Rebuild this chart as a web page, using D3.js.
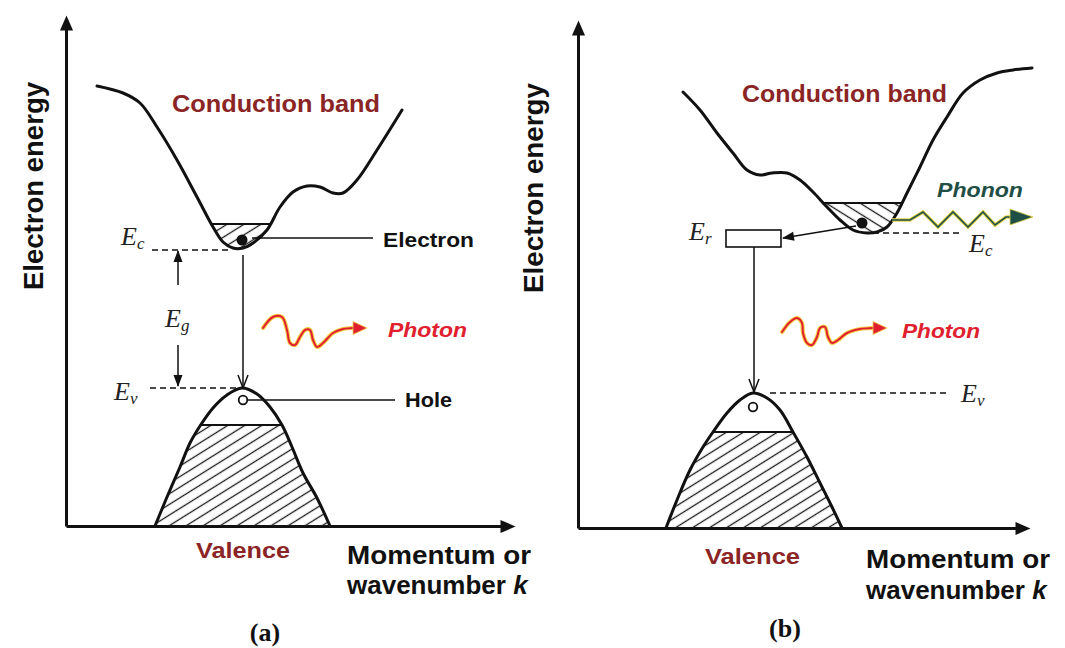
<!DOCTYPE html>
<html>
<head>
<meta charset="utf-8">
<script src="https://cdn.jsdelivr.net/npm/d3@7"></script>
<style>
body { margin: 0; background: #fff; }
text.sans { font-family: "Liberation Sans", Arial, sans-serif; }
text.serif { font-family: "Liberation Serif", "Times New Roman", serif; }
</style>
</head>
<body>
<script>

var condA = [[31,440],[57,433],[74,423],[91,399],[111,366],[131,329],[147,299],[157,284],[167,278],[177,278],[187,283],[201,296],[214,319],[227,334],[241,340],[254,339],[267,333],[277,333],[291,346],[311,376],[336,416]];
var valA = [[89,0],[101,29],[114,59],[124,83],[134,100],[147,118],[161,131],[176,138],[191,132],[204,119],[216,101],[226,79],[237,53],[251,28],[264,0]];
var photonA = [[197,198],[207,209],[216,209],[221,196],[224,183],[229,181],[234,189],[239,196],[244,196],[247,186],[251,179],[257,183],[267,193],[277,197],[287,198]];
var photonTipA = [301,198];

var condB = [[105,436],[122,418],[139,395],[155,375],[169,358],[182,353],[194,355],[209,355],[222,348],[235,336],[249,321],[262,308],[275,298],[289,295],[299,296],[309,301],[319,315],[329,335],[342,361],[355,388],[369,411],[385,435],[402,448],[419,455],[435,458],[454,460]];
var valB = [[88,0],[99,28],[112,58],[125,81],[135,96],[149,115],[162,128],[175,135],[189,130],[202,118],[215,96],[229,71],[242,45],[254,21],[264,0]];
var photonB = [[204,196],[212,206],[219,210],[224,205],[225,195],[229,185],[234,183],[239,191],[242,200],[247,201],[250,191],[254,185],[260,188],[269,195],[282,199],[295,200]];
var photonTipB = [309,200];
var phononB = [[314,308],[332,308],[345,316],[360,301],[375,316],[390,301],[405,316],[417,303],[428,311],[432,311]];
var phononTipB = [455,311];

// levels
var levelsA = {condFill: 302, valFill: 101, Ec: 276, Ev: 138};
var levelsB = {condFill: 325, valFill: 96, Ec: 295, Ev: 135, ErTop: 298, ErBottom: 281};

var svg = d3.select("body").append("svg")
    .attr("width", 1065)
    .attr("height", 648);

var defs = svg.append("defs");

// hatching
[["hatchUp", -32], ["hatchDown", 32]].forEach(function(h){
  var p = defs.append("pattern").attr("id", h[0])
    .attr("patternUnits", "userSpaceOnUse")
    .attr("width", 12).attr("height", 9)
    .attr("patternTransform", "rotate(" + h[1] + ")");
  p.append("line").attr("x1", -1).attr("x2", 13).attr("y1", 4.5).attr("y2", 4.5)
    .attr("stroke", "#1a1a1a").attr("stroke-width", 1.3);
});

function marker(id, d, fill, stroke, sw){
  defs.append("marker").attr("id", id)
    .attr("markerUnits", "userSpaceOnUse")
    .attr("viewBox", "-20 -15 30 30")
    .attr("markerWidth", 30).attr("markerHeight", 30)
    .attr("refX", 0).attr("refY", 0)
    .attr("orient", "auto")
    .append("path").attr("d", d)
    .attr("fill", fill).attr("stroke", stroke).attr("stroke-width", sw);
}
marker("axisHead", "M-6,-6.5L9,0L-6,6.5Z", "#111", "none", 0);
marker("vee", "M-13,-5L0,0L-13,5", "none", "#111", 1.5);
marker("tri", "M1,0L-11,-4.5L-11,4.5Z", "#111", "none", 0);

var line = d3.line().curve(d3.curveCatmullRom.alpha(0.5));

function panel(cfg){
  var x = d3.scaleLinear().domain([0, cfg.xTip - 9 - cfg.ox]).range([cfg.ox, cfg.xTip - 9]);
  var y = d3.scaleLinear().domain([0, cfg.oy - cfg.yTip - 9]).range([cfg.oy, cfg.yTip + 9]);
  line.x(function(d){ return x(d[0]); }).y(function(d){ return y(d[1]); });

  var g = svg.append("g");

  // axes with arrows
  var gx = g.append("g").attr("transform", "translate(0," + cfg.oy + ")")
    .call(d3.axisBottom(x).tickValues([]).tickSizeOuter(0));
  gx.select(".domain").attr("stroke", "#111").attr("stroke-width", 3).attr("marker-end", "url(#axisHead)");
  var gy = g.append("g").attr("transform", "translate(" + cfg.ox + ",0)")
    .call(d3.axisLeft(y).tickValues([]).tickSizeOuter(0));
  gy.select(".domain").attr("stroke", "#111").attr("stroke-width", 3).attr("marker-end", "url(#axisHead)");

  // conduction band: hatch the bottom of the well
  var c = cfg.cond, first = c[0], last = c[c.length - 1];
  defs.append("clipPath").attr("id", "well" + cfg.id)
    .append("path").attr("d", line(c) + "L" + x(last[0]) + ",0L" + x(first[0]) + ",0Z");
  var lv = cfg.levels;
  g.append("rect").attr("clip-path", "url(#well" + cfg.id + ")")
    .attr("x", x(first[0])).attr("width", x(last[0]) - x(first[0]))
    .attr("y", y(lv.condFill)).attr("height", y(lv.condFill - 60) - y(lv.condFill))
    .attr("fill", "url(#" + cfg.condHatch + ")");
  g.append("line").attr("clip-path", "url(#well" + cfg.id + ")")
    .attr("x1", x(first[0])).attr("x2", x(last[0]))
    .attr("y1", y(lv.condFill)).attr("y2", y(lv.condFill))
    .attr("stroke", "#111").attr("stroke-width", 2.2);
  g.append("path").attr("d", line(c)).attr("fill", "none")
    .attr("stroke", "#111").attr("stroke-width", 3).attr("stroke-linecap", "round");

  // valence band
  var v = cfg.val;
  defs.append("clipPath").attr("id", "hill" + cfg.id)
    .append("path").attr("d", line(v) + "Z");
  g.append("rect").attr("clip-path", "url(#hill" + cfg.id + ")")
    .attr("x", x(v[0][0])).attr("width", x(v[v.length - 1][0]) - x(v[0][0]))
    .attr("y", y(lv.valFill)).attr("height", y(0) - y(lv.valFill))
    .attr("fill", "url(#hatchUp)");
  g.append("line").attr("clip-path", "url(#hill" + cfg.id + ")")
    .attr("x1", x(v[0][0])).attr("x2", x(v[v.length - 1][0]))
    .attr("y1", y(lv.valFill)).attr("y2", y(lv.valFill))
    .attr("stroke", "#111").attr("stroke-width", 2.2);
  g.append("path").attr("d", line(v)).attr("fill", "none")
    .attr("stroke", "#111").attr("stroke-width", 3);

  // photon
  var ph = cfg.photon, pl = ph[ph.length - 1];
  [["#f4cf4a", 4.2], ["#e0202e", 2]].forEach(function(s){
    g.append("path").attr("d", line(ph)).attr("fill", "none")
      .attr("stroke", s[0]).attr("stroke-width", s[1]).attr("stroke-linecap", "round");
  });
  g.append("path")
    .attr("d", "M" + x(pl[0]) + "," + (y(pl[1]) - 6.5) + "L" + x(cfg.photonTip[0]) + "," + y(cfg.photonTip[1]) +
               "L" + x(pl[0]) + "," + (y(pl[1]) + 6.5) + "Z")
    .attr("fill", "#e0202e").attr("stroke", "#f4cf4a").attr("stroke-width", 0.8);

  return {x: x, y: y, g: g};
}

function dashed(g, x1, x2, yy){
  g.append("line").attr("x1", x1).attr("x2", x2).attr("y1", yy).attr("y2", yy)
    .attr("stroke", "#111").attr("stroke-width", 1.6).attr("stroke-dasharray", "6,4");
}
function arrow(g, x1, y1, x2, y2, m, w){
  g.append("line").attr("x1", x1).attr("y1", y1).attr("x2", x2).attr("y2", y2)
    .attr("stroke", "#111").attr("stroke-width", w || 1.5).attr("marker-end", "url(#" + m + ")");
}
function txt(x, y, s, o){
  o = o || {};
  var t = svg.append("text").attr("class", "sans").attr("x", x).attr("y", y).text(s)
    .attr("font-size", o.size || 20).attr("font-weight", "bold")
    .attr("fill", o.fill || "#111");
  if (o.style) t.attr("font-style", o.style);
  if (o.len) t.attr("textLength", o.len).attr("lengthAdjust", "spacingAndGlyphs");
  return t;
}
function eLabel(x, y, sub){
  var t = svg.append("text").attr("class", "serif").attr("x", x).attr("y", y)
    .attr("font-style", "italic").attr("font-size", 26).attr("fill", "#222");
  t.append("tspan").text("E");
  t.append("tspan").text(sub).attr("font-size", 17).attr("dy", 4);
}

// ---------- panel (a) ----------
var A = panel({id: "a", ox: 66, oy: 526, xTip: 515, yTip: 15, cond: condA, condHatch: "hatchUp",
               val: valA, levels: levelsA, photon: photonA, photonTip: photonTipA});
var xa = A.x, ya = A.y;

dashed(A.g, xa(86), xa(164), ya(levelsA.Ec));
dashed(A.g, xa(84), xa(171), ya(levelsA.Ev));
arrow(A.g, xa(112), ya(241), xa(112), ya(275), "tri", 1.5);
arrow(A.g, xa(112), ya(181), xa(112), ya(140), "tri", 1.5);
arrow(A.g, xa(177), ya(271), xa(177), ya(levelsA.Ev), "vee", 1.5);

A.g.append("line").attr("x1", xa(186)).attr("x2", xa(307)).attr("y1", ya(288)).attr("y2", ya(288))
  .attr("stroke", "#111").attr("stroke-width", 1.6);
A.g.append("circle").attr("cx", xa(176)).attr("cy", ya(286)).attr("r", 5.5).attr("fill", "#111");
A.g.append("line").attr("x1", xa(182)).attr("x2", xa(329)).attr("y1", ya(126)).attr("y2", ya(126))
  .attr("stroke", "#111").attr("stroke-width", 1.6);
A.g.append("circle").attr("cx", xa(177)).attr("cy", ya(126)).attr("r", 4.3)
  .attr("fill", "#fff").attr("stroke", "#111").attr("stroke-width", 1.8);

txt(172, 112, "Conduction band", {size: 24, len: 208, fill: "#8b2525"});
txt(383, 247, "Electron", {size: 20, len: 91});
txt(405, 407, "Hole", {size: 20, len: 47});
txt(388, 337, "Photon", {size: 20, len: 79, style: "italic", fill: "#e0202e"});
txt(196, 558, "Valence", {size: 22, len: 94, fill: "#8b2525"});
txt(347, 564, "Momentum or", {size: 26, len: 184});
var wa = txt(347, 594, "wavenumber ", {size: 26});
wa.append("tspan").text("k").attr("font-style", "italic");
txt(43, 186, "Electron energy", {size: 27, len: 208})
  .attr("text-anchor", "middle").attr("transform", "rotate(-90,43,186)");
eLabel(121, 245, "c");
eLabel(165, 327, "g");
eLabel(114, 400, "v");
svg.append("text").attr("class", "serif").attr("x", 265).attr("y", 641).attr("text-anchor", "middle")
  .attr("font-weight", "bold").attr("font-size", 26).attr("fill", "#111").text("(a)");

// ---------- panel (b) ----------
var B = panel({id: "b", ox: 578, oy: 528, xTip: 1030, yTip: 20, cond: condB, condHatch: "hatchDown",
               val: valB, levels: levelsB, photon: photonB, photonTip: photonTipB});
var xb = B.x, yb = B.y;

dashed(B.g, xb(295), xb(382), yb(levelsB.Ec));
dashed(B.g, xb(192), xb(372), yb(levelsB.Ev));

// recombination level box
B.g.append("rect").attr("x", xb(148)).attr("width", xb(203) - xb(148))
  .attr("y", yb(levelsB.ErTop)).attr("height", yb(levelsB.ErBottom) - yb(levelsB.ErTop))
  .attr("fill", "#fff").attr("stroke", "#111").attr("stroke-width", 1.6);
arrow(B.g, xb(176), yb(levelsB.ErBottom), xb(176), yb(levelsB.Ev + 1), "vee", 1.5);
arrow(B.g, xb(278), yb(302), xb(205), yb(290), "tri", 1.5);

B.g.append("circle").attr("cx", xb(284)).attr("cy", yb(305)).attr("r", 5.5).attr("fill", "#111");
B.g.append("circle").attr("cx", xb(175)).attr("cy", yb(121)).attr("r", 4.3)
  .attr("fill", "#fff").attr("stroke", "#111").attr("stroke-width", 1.8);

// phonon
var phl = phononB[phononB.length - 1];
var zig = d3.line().x(function(d){ return xb(d[0]); }).y(function(d){ return yb(d[1]); });
[["#e3d24a", 3.6], ["#1f4f45", 1.6]].forEach(function(s){
  B.g.append("path").attr("d", zig(phononB)).attr("fill", "none")
    .attr("stroke", s[0]).attr("stroke-width", s[1]).attr("stroke-linejoin", "miter");
});
B.g.append("path")
  .attr("d", "M" + xb(phl[0]) + "," + (yb(phl[1]) - 8) + "L" + xb(phononTipB[0]) + "," + yb(phononTipB[1]) +
             "L" + xb(phl[0]) + "," + (yb(phl[1]) + 8) + "Z")
  .attr("fill", "#1f4f45").attr("stroke", "#e3d24a").attr("stroke-width", 0.8);

txt(742, 102, "Conduction band", {size: 24, len: 205, fill: "#8b2525"});
txt(937, 197, "Phonon", {size: 20, len: 86, style: "italic", fill: "#1f4f45"});
txt(902, 338, "Photon", {size: 20, len: 78, style: "italic", fill: "#e0202e"});
txt(705, 564, "Valence", {size: 22, len: 95, fill: "#8b2525"});
txt(866, 568, "Momentum or", {size: 26, len: 184});
var wb = txt(866, 599, "wavenumber ", {size: 26});
wb.append("tspan").text("k").attr("font-style", "italic");
txt(543, 188, "Electron energy", {size: 27, len: 210})
  .attr("text-anchor", "middle").attr("transform", "rotate(-90,543,188)");
eLabel(689, 240, "r");
eLabel(969, 252, "c");
eLabel(961, 402, "v");
svg.append("text").attr("class", "serif").attr("x", 785).attr("y", 637).attr("text-anchor", "middle")
  .attr("font-weight", "bold").attr("font-size", 26).attr("fill", "#111").text("(b)");

</script>
</body>
</html>
